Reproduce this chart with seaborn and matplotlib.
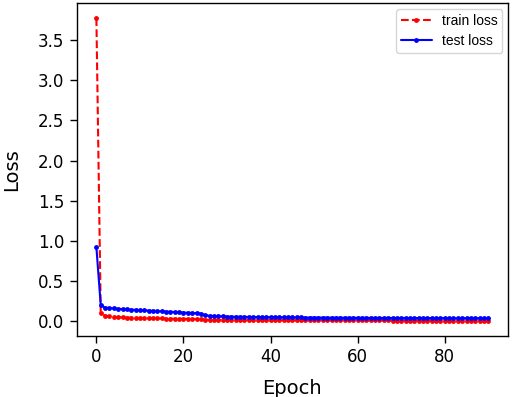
import matplotlib
matplotlib.use("Agg")
import matplotlib.pyplot as plt
import seaborn as sns

train_loss = [3.77, 0.10, 0.07, 0.06, 0.055, 0.05, 0.048, 0.046, 0.044, 0.042,
              0.040, 0.039, 0.038, 0.037, 0.036, 0.035, 0.034, 0.033, 0.032, 0.031,
              0.030, 0.030, 0.029, 0.028, 0.028, 0.020, 0.019, 0.019, 0.018, 0.018,
              0.017, 0.017, 0.017, 0.016, 0.016, 0.016, 0.015, 0.015, 0.015, 0.015,
              0.014, 0.014, 0.014, 0.014, 0.013, 0.013, 0.013, 0.013, 0.013, 0.012,
              0.012, 0.012, 0.012, 0.012, 0.012, 0.011, 0.011, 0.011, 0.011, 0.011,
              0.011, 0.010, 0.010, 0.010, 0.010, 0.010, 0.010, 0.010, 0.009, 0.009,
              0.009, 0.009, 0.009, 0.009, 0.009, 0.009, 0.008, 0.008, 0.008, 0.008,
              0.008, 0.008, 0.008, 0.008, 0.008, 0.007, 0.007, 0.007, 0.007, 0.007, 0.007]

test_loss = [0.92, 0.20, 0.17, 0.165, 0.160, 0.156, 0.152, 0.148, 0.145, 0.142,
             0.139, 0.136, 0.133, 0.130, 0.127, 0.124, 0.121, 0.118, 0.115, 0.112,
             0.109, 0.106, 0.103, 0.100, 0.097, 0.075, 0.068, 0.064, 0.062, 0.060,
             0.059, 0.058, 0.057, 0.056, 0.055, 0.054, 0.053, 0.053, 0.052, 0.052,
             0.051, 0.051, 0.050, 0.050, 0.049, 0.049, 0.048, 0.048, 0.047, 0.047,
             0.047, 0.046, 0.046, 0.046, 0.045, 0.045, 0.045, 0.044, 0.044, 0.044,
             0.043, 0.043, 0.043, 0.043, 0.042, 0.042, 0.042, 0.042, 0.041, 0.041,
             0.041, 0.041, 0.040, 0.040, 0.040, 0.040, 0.040, 0.039, 0.039, 0.039,
             0.039, 0.039, 0.038, 0.038, 0.038, 0.038, 0.038, 0.038, 0.037, 0.037, 0.037]

epochs = list(range(len(train_loss)))
xticks = [0, 20, 40, 60, 80]
yticks = [0.0, 0.5, 1.0, 1.5, 2.0, 2.5, 3.0, 3.5]
ytick_labels = ["0.0", "0.5", "1.0", "1.5", "2.0", "2.5", "3.0", "3.5"]

sns.set_style("ticks")
plt.rcParams['font.family'] = ['DejaVu Sans']
plt.rcParams['text.color'] = 'black'
plt.rcParams['axes.labelcolor'] = 'black'
plt.rcParams['xtick.color'] = 'black'
plt.rcParams['ytick.color'] = 'black'
plt.rcParams['axes.edgecolor'] = 'black'

fig = plt.figure(figsize=(5.12, 3.97), dpi=100)
ax = fig.add_axes([0.150, 0.154, 0.842, 0.838])

sns.lineplot(x=epochs, y=train_loss, ax=ax, color="red", linestyle="--",
             marker="o", markersize=3.5, markeredgewidth=0, linewidth=1.5, label="train loss")
sns.lineplot(x=epochs, y=test_loss, ax=ax, color="blue", linestyle="-",
             marker="o", markersize=3.5, markeredgewidth=0, linewidth=1.5, label="test loss")

ax.margins(x=0.05, y=0.05)
ax.set_xticks(xticks)
ax.set_yticks(yticks)
ax.set_yticklabels(ytick_labels)
ax.tick_params(labelsize=12, length=5, width=1, pad=4, color="black", labelcolor="black")
ax.set_xlabel("Epoch", fontsize=14, labelpad=9, color="black")
ax.set_ylabel("Loss", fontsize=14, labelpad=12, color="black")
for s in ax.spines.values():
    s.set_visible(True)
    s.set_color("black")
    s.set_linewidth(1.0)
leg = ax.legend(loc="upper right", prop={"family": "Liberation Sans", "size": 10},
                handlelength=2.25, handletextpad=0.7, borderaxespad=0.4,
                labelspacing=0.45, borderpad=0.35)
for t in leg.get_texts():
    t.set_color("black")

fig.savefig("out.png", dpi=100)
